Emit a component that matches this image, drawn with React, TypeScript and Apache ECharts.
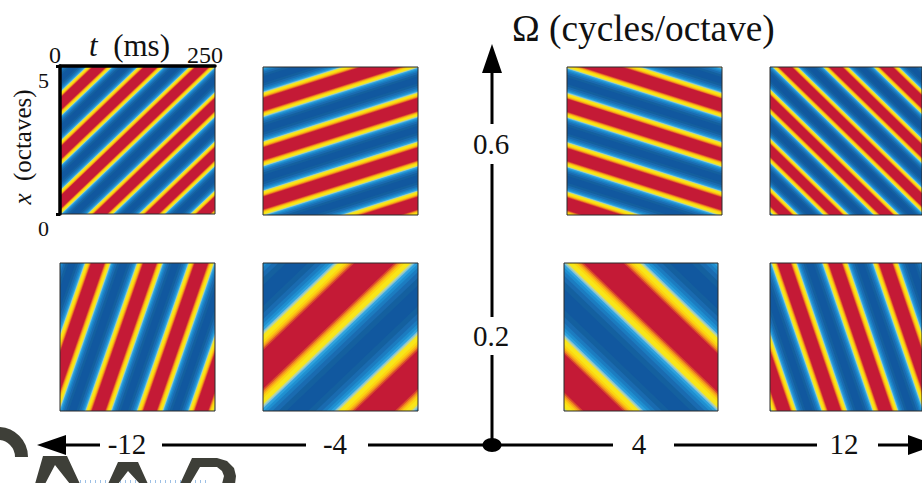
import React, { useEffect, useRef } from "react";
import * as echarts from "echarts";

// ---- values ----
const rateLabels = ["-12", "-4", "4", "12"];
const scaleLabels = ["0.6", "0.2"];
const timeTicks = ["0", "250"];
const octaveTicks = ["0", "5"];
const timeMax = 250; // ms
const octaveMax = 5; // octaves

// Every panel: period along t (ms), change of t over the 5 octaves (ms),
// and where each red stripe's centre crosses x = 0 (ms).
const periods = [83, 250, 250, 83, 83, 250, 250, 83];
const slants = [250, 750, -750, -250, 83, 250, -250, -83];
const crossings1 = [-268, -185, -102, -19, 65, 148, 231];
const crossings2 = [-810, -560, -310, -60, 190];
const crossings3 = [56, 306, 556, 806, 1056];
const crossings4 = [26, 109, 192, 275, 358, 441, 524];
const crossings5 = [-105, -22, 62, 145, 228];
const crossings6 = [-320, -70, 180];
const crossings7 = [64, 314, 564];
const crossings8 = [23, 106, 190, 273, 356];
const crossings = [crossings1, crossings2, crossings3, crossings4, crossings5, crossings6, crossings7, crossings8];

// Colour profile of one stripe, outermost first (half-width as share of the period).
const bandWidths = [0.43, 0.38, 0.34, 0.31, 0.285, 0.262, 0.25, 0.235, 0.195, 0.175, 0.16, 0.145, 0.13];
const bandColors = [
  "#14609f", "#1a6bb0", "#1c7cc0", "#1f8fd0", "#2fa3de", "#7fc0dc", "#bcd69a",
  "#f8e61a", "#fcd510", "#f9b418", "#f08a20", "#da4a2c", "#c41a36",
];
const baseColor = "#11589f";

const SERIF = "'Liberation Serif', 'Times New Roman', serif";
const INK = "#111111";
const LOGO = "#3e3f38";

const panelBoxes = [
  { left: 60, top: 66, width: 155, height: 148 },
  { left: 263, top: 67, width: 155, height: 148 },
  { left: 567, top: 67, width: 155, height: 148 },
  { left: 770, top: 67, width: 155, height: 148 },
  { left: 60, top: 263, width: 155, height: 148 },
  { left: 263, top: 263, width: 155, height: 148 },
  { left: 564, top: 263, width: 154, height: 148 },
  { left: 770, top: 263, width: 155, height: 148 },
];

function renderStripe(panel: number) {
  const period = periods[panel];
  const slant = slants[panel];
  return (params: any, api: any) => {
    const c = api.value(0) as number;
    const children: any[] = [];
    if (params.dataIndex === 0) {
      const a = api.coord([0, octaveMax]);
      const b = api.coord([timeMax, 0]);
      children.push({
        type: "rect",
        shape: { x: a[0], y: a[1], width: b[0] - a[0], height: b[1] - a[1] },
        style: { fill: baseColor },
      });
    }
    bandWidths.forEach((w, i) => {
      const half = w * period;
      children.push({
        type: "polygon",
        shape: {
          points: [
            api.coord([c - half, 0]),
            api.coord([c + half, 0]),
            api.coord([c + half + slant, octaveMax]),
            api.coord([c - half + slant, octaveMax]),
          ],
        },
        style: { fill: bandColors[i] },
      });
    });
    return { type: "group", children };
  };
}

function serifText(text: string, x: number, y: number, size: number, align = "center") {
  return {
    type: "text",
    z: 20,
    x,
    y,
    style: { text, font: `${size}px ${SERIF}`, fill: INK, align, verticalAlign: "middle" },
  };
}

function axisLine(x1: number, y1: number, x2: number, y2: number) {
  return {
    type: "line",
    z: 20,
    shape: { x1, y1, x2, y2 },
    style: { stroke: "#000", lineWidth: 3 },
  };
}

function logoShape(points: number[][]) {
  return { type: "polygon", z: 1, shape: { points }, style: { fill: LOGO } };
}

function buildGraphic() {
  return [
    // horizontal axis
    axisLine(64, 445, 100, 445),
    axisLine(162, 445, 306, 445),
    axisLine(368, 445, 613, 445),
    axisLine(674, 445, 817, 445),
    axisLine(878, 445, 910, 445),
    { type: "polygon", z: 20, shape: { points: [[37, 445], [66, 435], [66, 455]] }, style: { fill: "#000" } },
    { type: "polygon", z: 20, shape: { points: [[936, 445], [908, 435], [908, 455]] }, style: { fill: "#000" } },
    // vertical axis
    axisLine(492, 445, 492, 355),
    axisLine(492, 317, 492, 164),
    axisLine(492, 124, 492, 70),
    { type: "polygon", z: 20, shape: { points: [[492, 44], [482, 73], [502, 73]] }, style: { fill: "#000" } },
    { type: "ellipse", z: 21, shape: { cx: 492, cy: 445, rx: 9.5, ry: 7 }, style: { fill: "#000" } },
    // axis texts
    serifText(rateLabels[0], 127, 444, 29),
    serifText(rateLabels[1], 335, 444, 29),
    serifText(rateLabels[2], 639, 444, 29),
    serifText(rateLabels[3], 844, 444, 29),
    serifText(scaleLabels[0], 491, 144, 29),
    serifText(scaleLabels[1], 491, 336, 29),
    serifText("Ω (cycles/octave)", 512, 28, 37.3, "left"),
    // cut-off logo at the lower edge
    { type: "arc", z: 1, shape: { cx: -2, cy: 457, r: 23.5, startAngle: -Math.PI, endAngle: 0 }, style: { stroke: LOGO, lineWidth: 13, fill: "none" } },
    logoShape([[35, 484], [43, 456], [67, 456], [80, 484], [70, 484], [55, 465], [45, 484]]),
    logoShape([[108, 484], [118, 462], [138, 462], [148, 484], [140, 484], [128, 471], [118, 484]]),
    logoShape([
      [180, 484], [192, 458], [217, 458], [227, 461], [234, 468], [236, 476], [235, 484], [222, 484],
      [224, 476], [222, 471], [217, 467], [200, 467], [190, 484],
    ]),
    {
      type: "line",
      z: 0,
      shape: { x1: 75, y1: 481.5, x2: 210, y2: 481.5 },
      style: { stroke: "#9cc0e6", lineWidth: 3, lineDash: [1, 4] },
    },
  ];
}

function buildOption() {
  const grids = panelBoxes.map((b) => ({
    ...b,
    show: true,
    z: 5,
    backgroundColor: "transparent",
    borderColor: "#2a2a2a",
    borderWidth: 1,
  }));
  const xAxis = panelBoxes.map((_, i) => {
    const first = i === 0;
    return {
      type: "value",
      gridIndex: i,
      min: 0,
      max: timeMax,
      interval: timeMax,
      position: "top",
      show: first,
      z: 6,
      splitLine: { show: false },
      axisTick: { show: false },
      axisLine: { show: true, onZero: false, lineStyle: { color: "#000", width: 3.5 } },
      axisLabel: {
        margin: -1,
        hideOverlap: false,
        fontFamily: SERIF,
        fontSize: 24,
        color: INK,
        formatter: (v: number) => `{${v === 0 ? "a" : "b"}|${v === 0 ? timeTicks[0] : timeTicks[1]}}`,
        rich: {
          a: { fontFamily: SERIF, fontSize: 24, color: INK, padding: [0, 10, 0, 0] },
          b: { fontFamily: SERIF, fontSize: 24, color: INK, padding: [0, 20, 0, 0] },
        },
      },
      name: first ? "{i|t}{r|  (ms)}" : "",
      nameLocation: "middle",
      nameGap: 5,
      nameMoveOverlap: false,
      nameTextStyle: {
        padding: [0, 16, 0, 0],
        rich: {
          i: { fontFamily: SERIF, fontSize: 31, fontStyle: "italic", color: INK },
          r: { fontFamily: SERIF, fontSize: 31, color: INK },
        },
      },
    };
  });
  const yAxis = panelBoxes.map((_, i) => {
    const first = i === 0;
    return {
      type: "value",
      gridIndex: i,
      min: 0,
      max: octaveMax,
      interval: octaveMax,
      position: "left",
      show: first,
      z: 6,
      splitLine: { show: false },
      axisLine: { show: true, onZero: false, lineStyle: { color: "#000", width: 3.5 } },
      axisTick: { show: true, inside: false, length: 4, lineStyle: { color: "#000", width: 3 } },
      axisLabel: {
        margin: 11,
        fontFamily: SERIF,
        fontSize: 22,
        color: INK,
        formatter: (v: number) => `{a|${v === 0 ? octaveTicks[0] : octaveTicks[1]}}`,
        rich: { a: { fontFamily: SERIF, fontSize: 22, color: INK, padding: [28, 0, 0, 0] } },
      },
      name: first ? "{i|x}{r|  (octaves)}" : "",
      nameLocation: "middle",
      nameGap: 25,
      nameMoveOverlap: false,
      nameRotate: 90,
      nameTextStyle: {
        padding: [0, 14, 0, 0],
        rich: {
          i: { fontFamily: SERIF, fontSize: 25, fontStyle: "italic", color: INK },
          r: { fontFamily: SERIF, fontSize: 25, color: INK },
        },
      },
    };
  });
  const series = crossings.map((list, i) => ({
    type: "custom",
    xAxisIndex: i,
    yAxisIndex: i,
    clip: true,
    silent: true,
    renderItem: renderStripe(i),
    data: list.map((c) => [c]),
  }));
  return {
    animation: false,
    backgroundColor: "#ffffff",
    tooltip: { show: false },
    grid: grids,
    xAxis,
    yAxis,
    series,
    graphic: { elements: buildGraphic() },
  };
}

export default function App() {
  const ref = useRef<HTMLDivElement>(null);
  useEffect(() => {
    document.body.style.margin = "0";
    const chart = echarts.init(ref.current as HTMLDivElement, undefined, { renderer: "svg" });
    chart.setOption(buildOption() as any);
    return () => chart.dispose();
  }, []);
  return <div ref={ref} style={{ width: 922, height: 483, overflow: "hidden" }} />;
}
